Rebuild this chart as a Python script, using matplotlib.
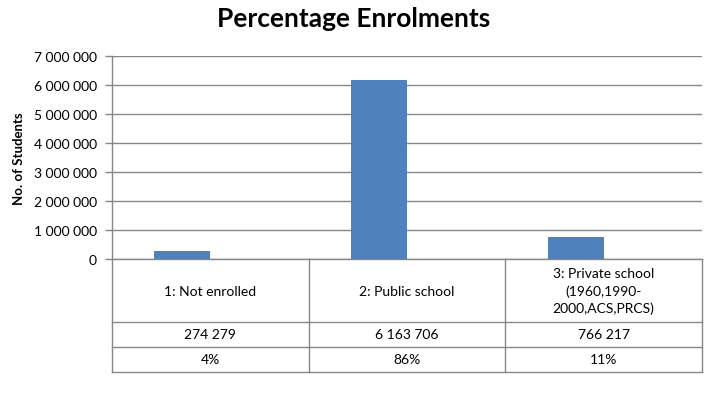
import matplotlib
matplotlib.use("Agg")
import matplotlib.pyplot as plt
from matplotlib.ticker import FuncFormatter

categories = ["1: Not enrolled", "2: Public school", "3: Private school\n(1960,1990-\n2000,ACS,PRCS)"]
students = [274279, 6163706, 766217]
percentages = ["4%", "86%", "11%"]
yticks = [0, 1000000, 2000000, 3000000, 4000000, 5000000, 6000000, 7000000]

FONT = ["Lato", "DejaVu Sans"]
plt.rcParams["font.family"] = FONT
GRAY = "#868686"
BAR = "#4F81BD"

W, H = 708, 406
fig = plt.figure(figsize=(W / 100, H / 100), dpi=100)

ax = fig.add_axes([112 / W, 146 / H, 590 / W, 203 / H])
x = list(range(len(categories)))
off = 0.358
ax.set_xlim(-off, len(categories) - off)
ax.bar(x, students, width=0.285, color=BAR, zorder=3)
ax.set_ylim(0, 7000000)
ax.set_yticks(yticks)
ax.yaxis.set_major_formatter(FuncFormatter(lambda v, p: f"{int(v):,}".replace(",", " ")))
ax.tick_params(axis="y", length=5, width=1, color=GRAY, labelsize=10, pad=6)
ax.tick_params(axis="x", length=0, labelbottom=False)
ax.grid(axis="y", color=GRAY, lw=1, zorder=0)
for s in ["top", "right", "bottom"]:
    ax.spines[s].set_visible(False)
ax.spines["left"].set_color(GRAY)
ax.spines["left"].set_linewidth(1)
ax.set_ylabel("No. of Students", fontsize=9.5, fontweight="bold", labelpad=6)

fig.text(354 / W, 1 - 19 / H, "Percentage Enrolments", ha="center", va="center",
         fontsize=19, fontweight="bold")

# data table
tax = fig.add_axes([112 / W, 33 / H, 590 / W, 113 / H])
tax.set_xlim(ax.get_xlim())
tax.set_ylim(113, 0)
tax.axis("off")
rows = [0, 63, 88, 113]
x0, x1 = ax.get_xlim()
for r in rows:
    tax.plot([x0, x1], [r, r], color=GRAY, lw=1, clip_on=False)
for k in range(len(categories) + 1):
    tax.plot([x0 + k, x0 + k], [0, 113], color=GRAY, lw=1, clip_on=False)
for i, cat in enumerate(categories):
    cx = x0 + i + 0.5
    tax.text(cx, 31.5, cat, ha="center", va="center", fontsize=10, linespacing=1.45)
    tax.text(cx, 75.5, f"{students[i]:,}".replace(",", " "), ha="center", va="center", fontsize=10)
    tax.text(cx, 100.5, percentages[i], ha="center", va="center", fontsize=10)

fig.savefig("out.png", dpi=100)
